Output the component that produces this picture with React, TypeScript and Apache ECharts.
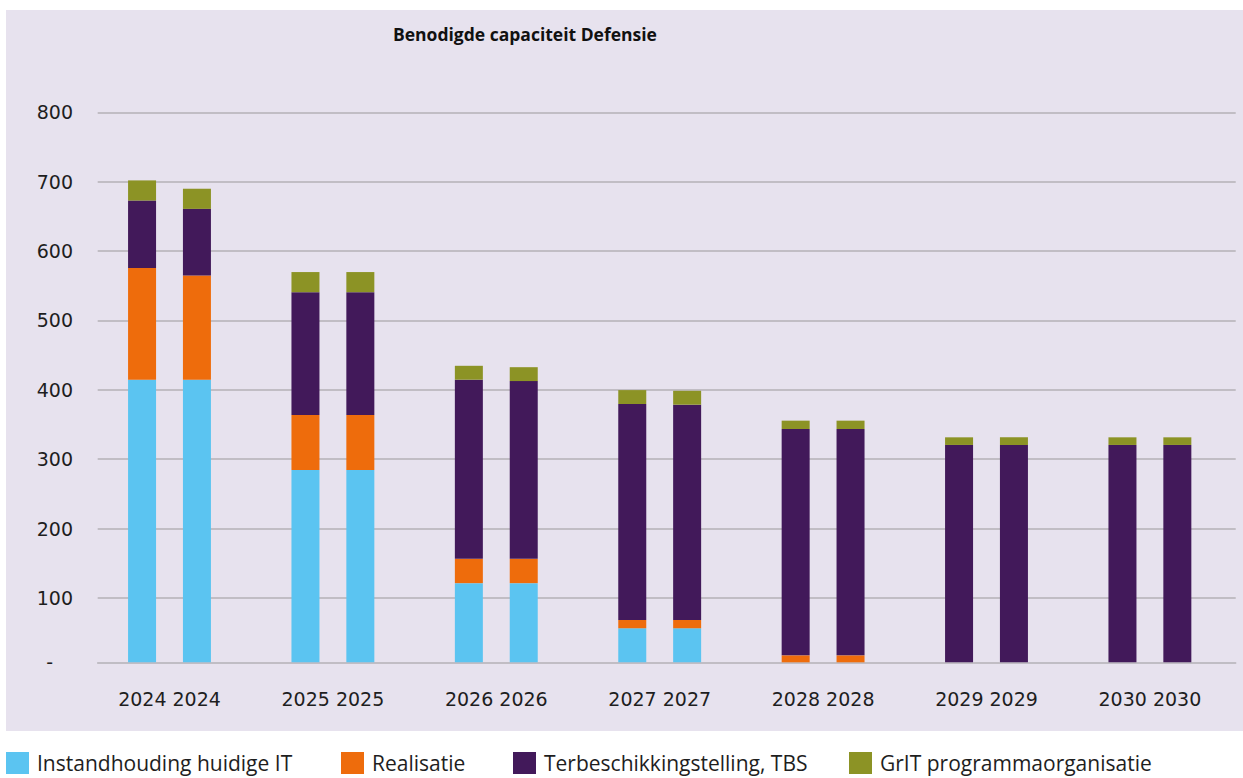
import React, { useEffect, useRef } from "react";
import * as echarts from "echarts";

const years = ["2024", "2025", "2026", "2027", "2028", "2029", "2030"];
const seriesNames = [
  "Instandhouding huidige IT",
  "Realisatie",
  "Terbeschikkingstelling, TBS",
  "GrIT programmaorganisatie",
];
// first bar of each year pair
const instandA = [407, 277, 114, 49, 0, 0, 0];
const realA = [161, 79, 35, 12, 10, 0, 0];
const tbsA = [97, 177, 258, 311, 326, 313, 313];
const gritA = [29, 29, 20, 20, 12, 11, 11];
// second bar of each year pair
const instandB = [407, 277, 114, 49, 0, 0, 0];
const realB = [150, 79, 35, 12, 10, 0, 0];
const tbsB = [96, 177, 256, 310, 326, 313, 313];
const gritB = [29, 29, 20, 20, 12, 11, 11];

const colors = ["#5BC4F1", "#EE6C0C", "#42195A", "#8C9325"];
const yTicks = { min: 0, max: 800, interval: 100 };

const NUM_FONT = "DejaVu Sans";
const TXT_FONT = "'Open Sans', 'Noto Sans', sans-serif";

export default function App() {
  const ref = useRef<HTMLDivElement>(null);

  useEffect(() => {
    if (!ref.current) return;
    const chart = echarts.init(ref.current, undefined, { renderer: "svg" });

    const stackA = [instandA, realA, tbsA, gritA];
    const stackB = [instandB, realB, tbsB, gritB];
    const series: any[] = [];
    [stackA, stackB].forEach((stack, si) => {
      stack.forEach((data, i) => {
        series.push({
          name: seriesNames[i],
          type: "bar",
          stack: si === 0 ? "a" : "b",
          xAxisIndex: 0,
          yAxisIndex: 0,
          data,
          barWidth: 28,
          barGap: "96%",
          itemStyle: { color: colors[i] },
          emphasis: { disabled: true },
        });
      });
    });

    const legendLefts = [6, 341, 513, 849];
    const legends = seriesNames.map((n, i) => ({
      data: [n],
      left: legendLefts[i],
      top: 752,
      icon: "rect",
      itemWidth: 23,
      itemHeight: 22,
      selectedMode: false,
      padding: 0,
      textStyle: {
        fontFamily: TXT_FONT,
        fontSize: 21,
        color: "#1e1e1e",
        padding: [2, 0, 0, 3],
      },
    }));

    chart.setOption({
      animation: false,
      color: colors,
      graphic: [
        {
          type: "rect",
          z: -10,
          silent: true,
          shape: { x: 6, y: 10, width: 1237, height: 721 },
          style: { fill: "#E7E2EE" },
        },
      ],
      title: {
        text: "Benodigde capaciteit Defensie",
        left: 393,
        top: 25,
        padding: 0,
        textStyle: {
          fontFamily: TXT_FONT,
          fontWeight: "bold",
          fontSize: 17.5,
          color: "#111111",
        },
      },
      legend: legends,
      grid: [
        { left: 87.8, right: 11.4, top: 106.8, bottom: 115.7 },
        { left: 97.7, right: 7.3, top: 112.3, bottom: 110.6 },
      ],
      xAxis: [
        {
          type: "category",
          gridIndex: 0,
          data: years,
          axisLine: { show: false },
          axisTick: { show: false },
          axisLabel: {
            formatter: (v: string) => `${v} ${v}`,
            fontFamily: NUM_FONT,
            fontSize: 19,
            color: "#1e1e1e",
            margin: 27,
          },
        },
        {
          type: "value",
          gridIndex: 1,
          min: 0,
          max: 1,
          offset: -5.1,
          axisLine: { show: true, lineStyle: { color: "#b4b1b6", width: 1.5 } },
          axisTick: { show: false },
          axisLabel: { show: false },
          splitLine: { show: false },
        },
      ],
      yAxis: [
        {
          type: "value",
          gridIndex: 0,
          min: 0,
          max: 800,
          interval: 800,
          axisLine: { show: false },
          axisTick: { show: false },
          splitLine: { show: false },
          axisLabel: {
            formatter: (v: number) => (v === 0 ? "-" : ""),
            fontFamily: NUM_FONT,
            fontSize: 19,
            color: "#1e1e1e",
            margin: 34.8,
          },
        },
        {
          type: "value",
          gridIndex: 1,
          min: yTicks.min,
          max: yTicks.max,
          interval: yTicks.interval,
          axisLine: { show: false },
          axisTick: { show: false },
          splitLine: {
            show: true,
            showMinLine: false,
            lineStyle: { color: "#b4b1b6", width: 1.5 },
          },
          axisLabel: {
            formatter: (v: number) => (v === 0 ? "" : String(v)),
            fontFamily: NUM_FONT,
            fontSize: 19,
            color: "#1e1e1e",
            margin: 24.7,
            padding: [0, 0, 6, 0],
          },
        },
      ],
      series,
    });

    return () => chart.dispose();
  }, []);

  return (
    <div
      ref={ref}
      style={{ position: "absolute", left: 0, top: 0, width: 1243, height: 778 }}
    />
  );
}
